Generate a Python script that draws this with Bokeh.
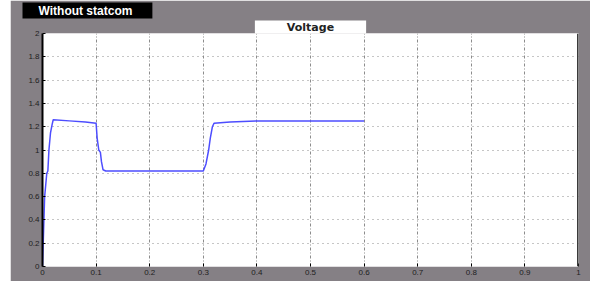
from bokeh.plotting import figure
from bokeh.models import Title, Span, FixedTicker, Range1d
from bokeh.embed import file_html
from bokeh.resources import INLINE

# time (s) and voltage (pu)
time = [0, 0.002, 0.004, 0.006, 0.008, 0.010, 0.012, 0.015, 0.018, 0.020,
        0.05, 0.08, 0.100, 0.102, 0.105, 0.108, 0.110, 0.113, 0.118,
        0.2, 0.300, 0.305, 0.310, 0.313, 0.317, 0.320, 0.35, 0.4, 0.5, 0.6]
voltage = [0, 0.30, 0.60, 0.70, 0.80, 0.82, 1.00, 1.15, 1.22, 1.26,
           1.25, 1.24, 1.23, 1.10, 1.00, 0.98, 0.90, 0.83, 0.82,
           0.82, 0.82, 0.88, 1.00, 1.10, 1.20, 1.23, 1.24, 1.25, 1.25, 1.25]

x_ticks = [0, 0.1, 0.2, 0.3, 0.4, 0.5, 0.6, 0.7, 0.8, 0.9, 1]
x_labels = {0: "0", 0.1: "0.1", 0.2: "0.2", 0.3: "0.3", 0.4: "0.4", 0.5: "0.5",
            0.6: "0.6", 0.7: "0.7", 0.8: "0.8", 0.9: "0.9", 1: "1"}
y_ticks = [0, 0.2, 0.4, 0.6, 0.8, 1, 1.2, 1.4, 1.6, 1.8, 2]
y_labels = {0: "0", 0.2: "0.2", 0.4: "0.4", 0.6: "0.6", 0.8: "0.8", 1: "1",
            1.2: "1.2", 1.4: "1.4", 1.6: "1.6", 1.8: "1.8", 2: "2"}
title_text = "Voltage"
legend_text = "Without statcom"

GRAY = "#858085"

p = figure(width=580, height=281, output_backend="svg", toolbar_location=None,
           x_range=Range1d(0, 1), y_range=Range1d(0, 2),
           min_border_left=32, min_border_right=12, min_border_top=32,
           min_border_bottom=15)
p.styles = {"margin-left": "10px", "margin-top": "0px"}
p.border_fill_color = GRAY
p.background_fill_color = "white"
p.outline_line_color = None

# outer title: the black "Without statcom" tag
p.title.text = legend_text
p.title.align = "left"
p.title.offset = -20
p.title.standoff = 0
p.title.text_color = "white"
p.title.text_font = "Liberation Sans"
p.title.text_font_style = "bold"
p.title.text_font_size = "12px"
p.title.background_fill_color = "black"
p.title.padding = dict(left=16, right=20, top=1, bottom=1)

# inner title: "Voltage" on a white box touching the frame
p.add_layout(Title(text=title_text, align="center", offset=0, standoff=0,
                   text_color="#222222", text_font="DejaVu Sans",
                   text_font_style="bold", text_font_size="11px",
                   background_fill_color="white",
                   padding=dict(left=32, right=32, top=0, bottom=0)), "above")

p.line(time, voltage, line_color="#4d4dff", line_width=1.5)

for ax in (p.xaxis[0], p.yaxis[0]):
    ax.major_tick_in = 3
    ax.major_tick_out = 0
    ax.minor_tick_in = 0
    ax.minor_tick_out = 0
    ax.major_tick_line_color = "black"
    ax.major_label_text_font = "Liberation Sans"
    ax.major_label_text_font_size = "8px"
    ax.major_label_text_color = "#1e1e1e"
    ax.major_label_standoff = 3

p.xaxis[0].ticker = FixedTicker(ticks=x_ticks)
p.xaxis[0].major_label_overrides = x_labels
p.xaxis[0].axis_line_color = None
p.yaxis[0].ticker = FixedTicker(ticks=y_ticks)
p.yaxis[0].major_label_overrides = y_labels
p.yaxis[0].axis_line_color = "black"
p.yaxis[0].axis_line_width = 2

p.xgrid.ticker = FixedTicker(ticks=x_ticks)
p.ygrid.ticker = FixedTicker(ticks=y_ticks)
p.xgrid.grid_line_color = "#8c8c8c"
p.xgrid.grid_line_dash = "3 2 1 2"
p.ygrid.grid_line_color = "#8c8c8c"
p.ygrid.grid_line_dash = "1 4"

p.add_layout(Span(location=1, dimension="height", line_color="#3a3a3a", line_width=3))

open("out.html", "w").write(file_html(p, INLINE))
